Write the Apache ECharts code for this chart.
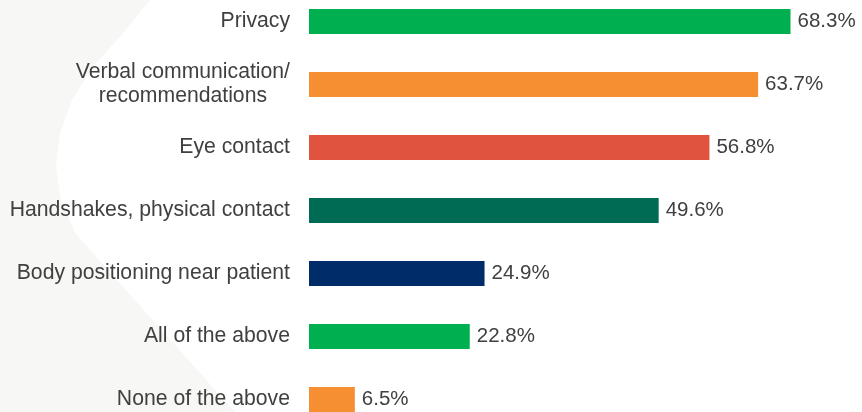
<!DOCTYPE html>
<html>
<head>
<meta charset="utf-8">
<script src="https://cdn.jsdelivr.net/npm/echarts@6/dist/echarts.min.js"></script>
<style>html,body{margin:0;padding:0;background:#fff;overflow:hidden;width:862px;height:412px;position:relative}#c{position:absolute;left:0;top:-10px;width:862px;height:441px}</style>
</head>
<body>
<div id="c"></div>
<script>
const categories = ["Privacy", "Verbal communication/\nrecommendations", "Eye contact", "Handshakes, physical contact", "Body positioning near patient", "All of the above", "None of the above"];
const values = [68.3, 63.7, 56.8, 49.6, 24.9, 22.8, 6.5];
const barColors = ["#00B050", "#F58F31", "#E0533F", "#006B55", "#002D6A", "#00B050", "#F58F31"];

const chart = echarts.init(document.getElementById('c'), null, {renderer: 'canvas'});
const off = 10;
chart.setOption({
  backgroundColor: '#ffffff',
  animation: false,
  graphic: [{
    type: 'polygon', z: -10, silent: true,
    shape: { points: [[0,-10],[160,-10],[150,0],[123,33],[93,67],[72,100],[60,133],[56,167],[61,200],[75,233],[242,420],[0,420]].map(function (p) { return [p[0], p[1] + off]; }) },
    style: { fill: '#F7F7F5' }
  }],
  grid: { left: 309, right: 0, top: 0, bottom: 0, containLabel: false },
  xAxis: { type: 'value', min: 0, max: 78.44, show: false },
  yAxis: {
    type: 'category', data: categories, inverse: true,
    axisLine: { show: false }, axisTick: { show: false }, splitLine: { show: false },
    axisLabel: {
      margin: 19, color: '#404040', fontSize: 21.2, fontFamily: 'Liberation Sans, Arial, sans-serif',
      lineHeight: 24,
      formatter: function (v) {
        return v.split('\n').map(function (s) { return '{c|' + s + '}'; }).join('\n');
      },
      rich: { c: { align: 'center', fontSize: 21.2, color: '#404040', lineHeight: 24, fontFamily: 'Liberation Sans, Arial, sans-serif' } }
    }
  },
  series: [{
    type: 'bar', barWidth: 25,
    data: values.map(function (v, i) { return { value: v, itemStyle: { color: barColors[i] } }; }),
    label: {
      show: true, position: 'right', distance: 7, color: '#404040', fontSize: 20.5,
      fontFamily: 'Liberation Sans, Arial, sans-serif',
      formatter: function (p) { return p.value.toFixed(1) + '%'; }
    }
  }]
});
</script>
</body>
</html>
